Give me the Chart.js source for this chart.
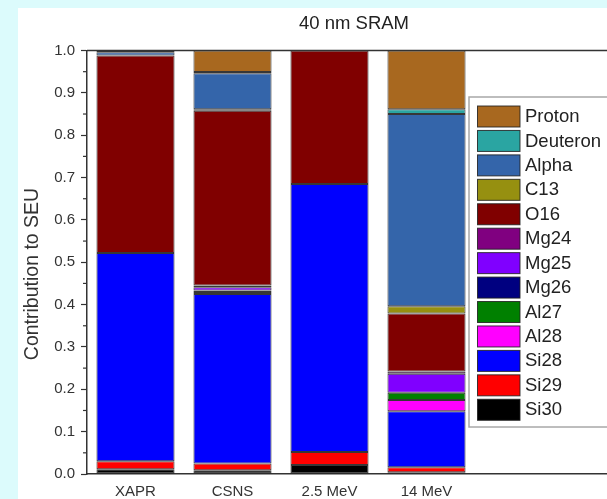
<!DOCTYPE html>
<html>
<head>
<meta charset="utf-8">
<script src="https://cdn.jsdelivr.net/npm/chart.js@4.4.1/dist/chart.umd.min.js"></script>
<style>
  html, body { margin: 0; padding: 0; width: 607px; height: 499px; overflow: hidden; background: #dcfbfc; }
  #wrap { position: absolute; left: 18px; top: 8px; width: 672px; height: 491px; background: #ffffff; }
  canvas { display: block; }
</style>
</head>
<body>
<div id="wrap"><canvas id="c" width="672" height="491"></canvas></div>
<script>
// ---- data ----
const categories = ['XAPR', 'CSNS', '2.5 MeV', '14 MeV'];
const extraSlots = ['', ''];
const yTicks = [0, 0.1, 0.2, 0.3, 0.4, 0.5, 0.6, 0.7, 0.8, 0.9, 1.0];

// stacking order bottom -> top
const seriesNames = ['Si30', 'Si29', 'Si28', 'Al28', 'Al27', 'Mg26', 'Mg25', 'Mg24', 'O16', 'C13', 'Alpha', 'Deuteron', 'Proton'];
const Si30     = [0.011, 0.009, 0.021, 0.004];
const Si29     = [0.019, 0.016, 0.031, 0.012];
const Si28     = [0.492, 0.400, 0.633, 0.132];
const Al28     = [null,  null,  null,  0.027];
const Al27     = [null,  0.005, null,  0.017];
const Mg26     = [null,  0.003, null,  null];
const Mg25     = [null,  0.008, null,  0.045];
const Mg24     = [null,  0.004, null,  0.005];
const O16      = [0.466, 0.413, 0.315, 0.137];
const C13      = [null,  0.003, null,  0.017];
const Alpha    = [0.008, 0.085, null,  0.454];
const Deuteron = [null,  0.003, null,  0.011];
const Proton   = [0.004, 0.051, null,  0.139];
const seriesValues = [Si30, Si29, Si28, Al28, Al27, Mg26, Mg25, Mg24, O16, C13, Alpha, Deuteron, Proton];
const seriesColors = ['#000000', '#ff0000', '#0000ff', '#ff00ff', '#008000', '#000080', '#8000ff', '#800080', '#800000', '#969010', '#3465aa', '#2aa5a2', '#a8681f'];

const FONT = "'Liberation Sans', Arial, sans-serif";
const AXIS = '#333333';

const datasets = seriesNames.map((n, i) => ({
  label: n,
  data: seriesValues[i],
  backgroundColor: seriesColors[i],
  borderColor: 'rgba(20,20,20,0.85)',
  borderWidth: 1,
  borderSkipped: false,
  categoryPercentage: 1.0,
  barPercentage: 0.805
}));

const decorPlugin = {
  id: 'decor',
  afterDatasetsDraw(chart) {
    const {ctx, chartArea: a, scales: {y}} = chart;
    ctx.save();
    // top frame line
    ctx.strokeStyle = AXIS;
    ctx.lineWidth = 1.5;
    ctx.beginPath();
    ctx.moveTo(a.left, a.top);
    ctx.lineTo(a.right + 40, a.top);
    ctx.stroke();
    // minor ticks
    ctx.lineWidth = 1.2;
    for (let k = 0; k < yTicks.length - 1; k++) {
      const v = (yTicks[k] + yTicks[k + 1]) / 2;
      const py = y.getPixelForValue(v);
      ctx.beginPath();
      ctx.moveTo(a.left - 4, py);
      ctx.lineTo(a.left, py);
      ctx.stroke();
    }
    ctx.restore();
  },
  afterDraw(chart) {
    const {ctx} = chart;
    ctx.save();
    // y axis title
    ctx.translate(15, 266);
    ctx.rotate(-Math.PI / 2);
    ctx.fillStyle = AXIS;
    ctx.font = '19.5px ' + FONT;
    ctx.textAlign = 'center';
    ctx.textBaseline = 'middle';
    ctx.fillText('Contribution to SEU', 0, 0);
    ctx.restore();

    // legend box
    ctx.save();
    const bx = 451, by = 89, bw = 200, bh = 330;
    ctx.fillStyle = '#ffffff';
    ctx.fillRect(bx, by, bw, bh);
    ctx.strokeStyle = '#a8a8a8';
    ctx.lineWidth = 1.5;
    ctx.strokeRect(bx, by, bw, bh);
    const ds = chart.data.datasets.slice().reverse();
    const step = 24.44;
    ds.forEach((d, i) => {
      const sy = 98 + i * step;
      ctx.fillStyle = d.backgroundColor;
      ctx.fillRect(459.5, sy, 42.5, 21);
      ctx.strokeStyle = 'rgba(30,30,30,0.85)';
      ctx.lineWidth = 1;
      ctx.strokeRect(459.5, sy, 42.5, 21);
      ctx.fillStyle = '#222222';
      ctx.font = '18.5px ' + FONT;
      ctx.textAlign = 'left';
      ctx.textBaseline = 'middle';
      ctx.fillText(d.label, 507, sy + 11);
    });
    ctx.restore();
  }
};

new Chart(document.getElementById('c'), {
  type: 'bar',
  data: { labels: categories.concat(extraSlots), datasets },
  options: {
    responsive: false,
    animation: false,
    layout: { padding: { left: 21, right: 21, top: 0, bottom: 0 } },
    plugins: {
      legend: { display: false },
      tooltip: { enabled: false },
      title: {
        display: true,
        text: '40 nm SRAM',
        color: '#222222',
        font: { family: FONT, size: 18.5, weight: 'normal', lineHeight: 1.2 },
        padding: { top: 5, bottom: 15.3 }
      }
    },
    scales: {
      x: {
        stacked: true,
        grid: { display: false, drawTicks: false },
        border: { display: true, color: AXIS, width: 1.5 },
        ticks: { color: AXIS, font: { family: FONT, size: 15 }, padding: 9, maxRotation: 0, autoSkip: false },
        afterFit(s) { s.height = 25; }
      },
      y: {
        stacked: true,
        min: 0,
        max: 1,
        afterBuildTicks(s) { s.ticks = yTicks.map(v => ({ value: v })); },
        grid: { display: true, drawOnChartArea: false, drawTicks: true, tickLength: 6, tickColor: AXIS, tickWidth: 1.2 },
        border: { display: true, color: AXIS, width: 1.5 },
        ticks: { color: AXIS, font: { family: FONT, size: 15 }, padding: 6, callback: v => Number(v).toFixed(1) },
        afterFit(s) { s.width = 48; }
      }
    }
  },
  plugins: [decorPlugin]
});
</script>
</body>
</html>
